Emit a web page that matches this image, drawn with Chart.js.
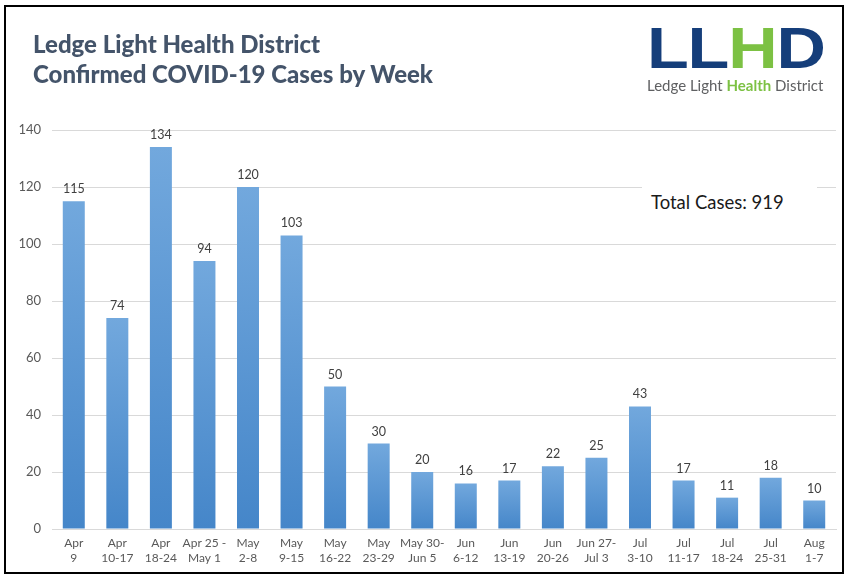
<!DOCTYPE html>
<html>
<head>
<meta charset="utf-8">
<script src="https://cdn.jsdelivr.net/npm/chart.js@4.4.1/dist/chart.umd.min.js"></script>
<style>
  html, body { margin: 0; padding: 0; background: #fff; }
  #wrap { position: relative; width: 852px; height: 581px; overflow: hidden; }
  #frame {
    position: absolute; left: 4px; top: 5px; width: 840px; height: 569px;
    border: 2px solid #000; box-sizing: border-box; pointer-events: none;
  }
  canvas { position: absolute; left: 0; top: 0; }
  #title {
    position: absolute; left: 33px; top: 29px;
    font-family: Lato, "Open Sans", sans-serif; font-weight: 900;
    font-size: 24px; line-height: 30px; color: #44546a;
    white-space: nowrap;
  }
  #logo { position: absolute; left: 647px; top: 22px; width: 176px; }
  #logo .big {
    font-family: "Liberation Sans", Arial, sans-serif; font-weight: 700;
    font-size: 57px; line-height: 52px; color: #153e7a; letter-spacing: -1px;
    white-space: nowrap; transform: scaleX(1.2); transform-origin: left top;
  }
  #logo .big .g { color: #7cc143; }
  #logo .small {
    font-family: Lato, "Open Sans", sans-serif; font-size: 15px;
    color: #5f6062; white-space: nowrap; margin-top: 2px;
  }
  #logo .small b { color: #7cc143; }
  #total {
    position: absolute; left: 642px; top: 177px; width: 175px; height: 50px;
    background: #fff; font-family: Lato, "Open Sans", sans-serif;
    font-size: 18.5px; color: #1a1a1a; line-height: 50px; box-sizing: border-box;
    padding-left: 9px; white-space: nowrap;
  }
</style>
</head>
<body>
<div id="wrap">
  <canvas id="chart" width="852" height="581"></canvas>
  <div id="title">Ledge Light Health District<br>Confirmed COVID-19 Cases by Week</div>
  <div id="logo">
    <div class="big">LL<span class="g">H</span>D</div>
    <div class="small">Ledge Light <b>Health</b> District</div>
  </div>
  <div id="total">Total Cases: 919</div>
  <div id="frame"></div>
</div>
<script>
// Weeks (two-line labels as on the original axis)
const weeks = [
  ['Apr', '9'], ['Apr', '10-17'], ['Apr', '18-24'], ['Apr 25 -', 'May 1'],
  ['May', '2-8'], ['May', '9-15'], ['May', '16-22'], ['May', '23-29'],
  ['May 30-', 'Jun 5'], ['Jun', '6-12'], ['Jun', '13-19'], ['Jun', '20-26'],
  ['Jun 27-', 'Jul 3'], ['Jul', '3-10'], ['Jul', '11-17'], ['Jul', '18-24'],
  ['Jul', '25-31'], ['Aug', '1-7']
];

// Confirmed cases per week
const cases = [115, 74, 134, 94, 120, 103, 50, 30, 20, 16, 17, 22, 25, 43, 17, 11, 18, 10];

// Y axis
const yMin = 0;
const yMax = 140;
const yStep = 20;

const labelFont = 'Lato, "Open Sans", sans-serif';

// Gradient per bar, lighter at the top like the Excel fill
function barFill(ctx) {
  const chart = ctx.chart;
  if (!chart.chartArea || ctx.type !== 'data') return '#5b9bd5';
  const y = chart.scales.y;
  const top = y.getPixelForValue(ctx.raw);
  const bottom = y.getPixelForValue(0);
  const g = chart.ctx.createLinearGradient(0, top, 0, bottom);
  g.addColorStop(0, '#72a8dd');
  g.addColorStop(1, '#4586c9');
  return g;
}

// Numbers above the bars
const valueLabels = {
  id: 'valueLabels',
  afterDatasetsDraw(chart) {
    const ctx = chart.ctx;
    const meta = chart.getDatasetMeta(0);
    ctx.save();
    ctx.font = '12.5px ' + labelFont;
    ctx.fillStyle = '#404040';
    ctx.textAlign = 'center';
    ctx.textBaseline = 'alphabetic';
    meta.data.forEach((bar, i) => {
      ctx.fillText(String(cases[i]), bar.x, bar.y - 8);
    });
    ctx.restore();
  }
};

new Chart(document.getElementById('chart'), {
  type: 'bar',
  data: {
    labels: weeks,
    datasets: [{
      data: cases,
      backgroundColor: barFill,
      borderWidth: 0,
      categoryPercentage: 1,
      barPercentage: 0.505
    }]
  },
  options: {
    responsive: false,
    animation: false,
    layout: { padding: { left: 0, right: 16, top: 130, bottom: 12 } },
    plugins: {
      legend: { display: false },
      tooltip: { enabled: false }
    },
    scales: {
      x: {
        grid: { display: false, drawTicks: false },
        border: { color: '#d9d9d9', width: 1 },
        ticks: {
          color: '#595959', font: { family: labelFont, size: 12, lineHeight: 1.25 },
          padding: 7, maxRotation: 0, autoSkip: false
        },
        afterFit(scale) { scale.height = 40; }
      },
      y: {
        min: yMin,
        max: yMax,
        grid: { color: '#d9d9d9', drawTicks: false },
        border: { display: false },
        ticks: {
          stepSize: yStep, color: '#595959',
          font: { family: labelFont, size: 13 }, padding: 11
        },
        afterFit(scale) { scale.width = 52; }
      }
    }
  },
  plugins: [valueLabels]
});
</script>
</body>
</html>
